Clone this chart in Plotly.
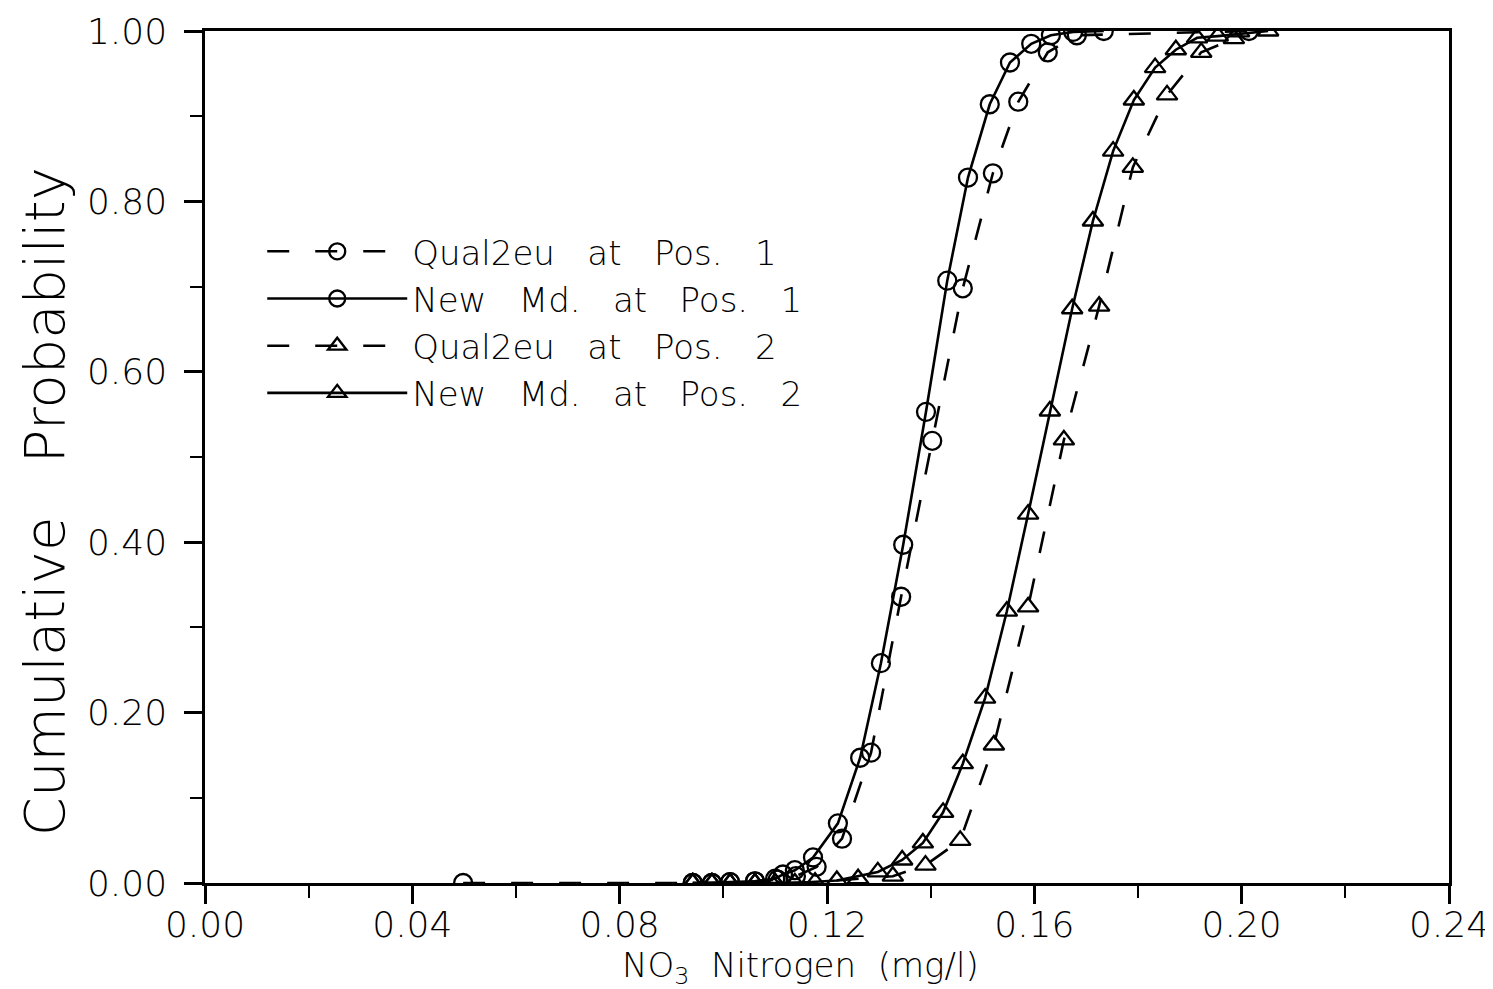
import plotly.graph_objects as go

# ---- data ----
new_p1_x = [0.0941, 0.0978, 0.1013, 0.1061, 0.1100, 0.1115, 0.1138, 0.1173, 0.1221, 0.1264,
            0.1304, 0.1347, 0.1391, 0.1432, 0.1472, 0.1514, 0.1553, 0.1594, 0.1632, 0.1675, 0.1734]
new_p1_y = [0.000, 0.000, 0.001, 0.002, 0.005, 0.010, 0.015, 0.030, 0.070, 0.147,
            0.258, 0.397, 0.553, 0.707, 0.828, 0.914, 0.963, 0.985, 0.995, 0.999, 1.000]

q2_p1_x = [0.0498, 0.0941, 0.0978, 0.1013, 0.1061, 0.1105, 0.1140, 0.1180, 0.1229, 0.1285,
           0.1343, 0.1403, 0.1462, 0.1520, 0.1569, 0.1626, 0.1682, 0.2014]
q2_p1_y = [0.000, 0.000, 0.000, 0.001, 0.002, 0.004, 0.008, 0.019, 0.052, 0.153,
           0.336, 0.519, 0.698, 0.833, 0.917, 0.975, 0.995, 1.000]

new_p2_x = [0.0941, 0.0978, 0.1013, 0.1061, 0.1100, 0.1138, 0.1219, 0.1298, 0.1345, 0.1385,
            0.1424, 0.1462, 0.1505, 0.1547, 0.1588, 0.1630, 0.1673, 0.1713, 0.1752, 0.1792,
            0.1833, 0.1873, 0.1914, 0.1954, 0.2051]
new_p2_y = [0.000, 0.000, 0.000, 0.000, 0.000, 0.000, 0.003, 0.013, 0.027, 0.047,
            0.083, 0.140, 0.217, 0.319, 0.433, 0.554, 0.674, 0.777, 0.859, 0.919,
            0.957, 0.978, 0.992, 0.994, 1.000]

q2_p2_x = [0.0941, 0.0978, 0.1013, 0.1061, 0.1100, 0.1177, 0.1260, 0.1327, 0.1390, 0.1457,
           0.1522, 0.1588, 0.1657, 0.1725, 0.1790, 0.1856, 0.1922, 0.1985, 0.1995]
q2_p2_y = [0.000, 0.000, 0.000, 0.000, 0.000, 0.001, 0.005, 0.008, 0.021, 0.050,
           0.162, 0.324, 0.520, 0.677, 0.840, 0.925, 0.975, 0.991, 0.999]

x_ticks = [0.00, 0.04, 0.08, 0.12, 0.16, 0.20, 0.24]
y_ticks = [0.00, 0.20, 0.40, 0.60, 0.80, 1.00]

S = "\u00a0\u00a0 "
names = [f"Qual2eu{S}at{S}Pos.{S}1", f"New{S}Md.{S}at{S}Pos.{S}1",
         f"Qual2eu{S}at{S}Pos.{S}2", f"New{S}Md.{S}at{S}Pos.{S}2"]

FONT = "'DejaVu Sans', sans-serif"
W = 200
BLACK = "#000000"
DASH = "22px,26px"

fig = go.Figure()
series = [
    (q2_p1_x, q2_p1_y, names[0], "circle-open", DASH),
    (new_p1_x, new_p1_y, names[1], "circle-open", "solid"),
    (q2_p2_x, q2_p2_y, names[2], "triangle-up-open", DASH),
    (new_p2_x, new_p2_y, names[3], "triangle-up-open", "solid"),
]
for xs, ys, nm, sym, dash in series:
    fig.add_trace(go.Scatter(
        x=xs, y=ys, name=nm, mode="lines+markers",
        line=dict(color=BLACK, width=2.6, dash=dash),
        marker=dict(symbol=sym, size=18, color=BLACK, line=dict(width=2.3, color=BLACK)),
    ))

axis_common = dict(
    showgrid=False, zeroline=False, showline=True, linecolor=BLACK, linewidth=2.5,
    mirror=True, ticks="outside", ticklen=18, tickwidth=2.5, tickcolor=BLACK,
    tickfont=dict(family=FONT, size=36, color=BLACK, weight=W), automargin=False,
    ticklabeloverflow="allow",
)

fig.update_layout(
    width=1493, height=989,
    paper_bgcolor="white", plot_bgcolor="white",
    margin=dict(l=197, r=52, t=23, b=114),
    showlegend=True,
    legend=dict(x=0.046, y=0.775, xanchor="left", yanchor="top",
                bgcolor="rgba(0,0,0,0)", borderwidth=0,
                font=dict(family=FONT, size=34, color=BLACK, weight=W),
                itemwidth=140, tracegroupgap=0),
    xaxis=dict(range=[0, 0.24], tickvals=x_ticks, ticktext=[f"{v:.2f}" for v in x_ticks],
               minor=dict(dtick=0.02, ticks="outside", ticklen=12, tickwidth=2, tickcolor=BLACK),
               ticklabelstandoff=-10, **axis_common),
    yaxis=dict(range=[0, 1.0], tickvals=y_ticks, ticktext=[f"{v:.2f}" for v in y_ticks],
               minor=dict(dtick=0.1, ticks="outside", ticklen=12, tickwidth=2, tickcolor=BLACK),
               ticklabelstandoff=10, **axis_common),
    annotations=[
        dict(text="NO<sub>3</sub>\u00a0 Nitrogen\u00a0 (mg/l)", xref="paper", yref="paper",
             x=0.479, y=-0.099, xanchor="center", yanchor="middle", showarrow=False,
             font=dict(family=FONT, size=34, color=BLACK, weight=W)),
        dict(text="Cumulative\u00a0\u00a0 Probability", xref="paper", yref="paper",
             x=-0.1294, y=0.447, xanchor="center", yanchor="middle", textangle=-90,
             showarrow=False, font=dict(family=FONT, size=56, color=BLACK, weight=W)),
    ],
)
fig.write_html("out.html")
